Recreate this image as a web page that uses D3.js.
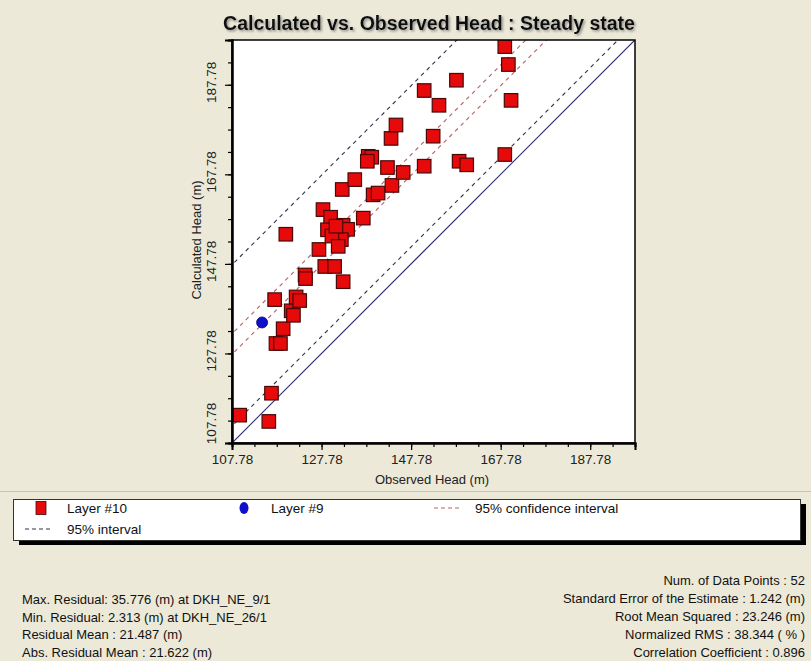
<!DOCTYPE html>
<html>
<head>
<meta charset="utf-8">
<script src="https://cdn.jsdelivr.net/npm/d3@7"></script>
<style>
  html, body { margin: 0; padding: 0; background: #ece9d8; }
  svg { display: block; font-family: "Liberation Sans", Arial, sans-serif; }
</style>
</head>
<body>
<script>
// Layer #10 points (observed, calculated)
var observedL10 = [109.5, 116.0, 116.6, 117.6, 118.6, 117.3, 119.2, 121.0, 121.5, 122.1,
                   122.9, 124.1, 124.2, 119.8, 127.2, 128.5, 130.7, 132.6, 128.1, 129.8,
                   129.1, 132.6, 133.6, 132.2, 130.1, 131.5, 137.1, 132.4, 135.2, 139.3,
                   140.4, 143.5, 146.0, 142.5, 138.2, 139.0, 150.7, 143.3, 144.4, 152.7,
                   150.7, 154.0, 157.9, 158.5, 160.2, 168.7, 168.7, 169.5, 170.1, 138.0,
                   131.0];
var calculatedL10 = [114.0, 112.6, 118.9, 130.0, 130.0, 139.8, 133.3, 137.3, 136.3, 140.4,
                     139.6, 145.3, 144.5, 154.4, 151.0, 147.2, 147.2, 143.8, 159.9, 158.2,
                     155.4, 156.4, 155.5, 153.2, 154.0, 151.7, 158.0, 164.4, 166.6, 163.2,
                     163.6, 165.3, 168.2, 169.3, 171.8, 171.6, 169.6, 175.8, 178.8, 176.3,
                     186.5, 183.2, 188.8, 170.7, 169.9, 172.2, 196.3, 192.3, 184.3, 170.7,
                     156.2];
// Layer #9 point
var observedL9 = [114.5];
var calculatedL9 = [134.7];

// line offsets from the 1:1 line (calculated = observed + offset)
var intervalOffsets = [3.8, 39.8];
var confidenceOffsets = [19.8, 24.4];

var axisMin = 107.78, axisMax = 197.78;
var majorTicks = [107.78, 127.78, 147.78, 167.78, 187.78];
var minorTicks = d3.range(0, 19).map(function(i) { return +(107.78 + i * 5).toFixed(2); });

var statsLeft = ["Max. Residual: 35.776 (m) at DKH_NE_9/1",
                 "Min. Residual: 2.313 (m) at DKH_NE_26/1",
                 "Residual Mean : 21.487 (m)",
                 "Abs. Residual Mean : 21.622 (m)"];
var statsRight = ["Num. of Data Points : 52",
                  "Standard Error of the Estimate : 1.242 (m)",
                  "Root Mean Squared : 23.246 (m)",
                  "Normalized RMS : 38.344 ( % )",
                  "Correlation Coefficient : 0.896"];

var W = 811, H = 661;
var plot = {left: 232, top: 40, right: 635, bottom: 443};

var svg = d3.select("body").append("svg")
    .attr("width", W)
    .attr("height", H);

svg.append("rect").attr("width", W).attr("height", H).attr("fill", "#ece9d8");

var defs = svg.append("defs");
defs.append("clipPath").attr("id", "plotclip")
    .append("rect")
    .attr("x", plot.left).attr("y", plot.top)
    .attr("width", plot.right - plot.left).attr("height", plot.bottom - plot.top);
var shadow = defs.append("filter").attr("id", "tshadow")
    .attr("x", "-5%").attr("y", "-30%").attr("width", "110%").attr("height", "160%");
shadow.append("feDropShadow")
    .attr("dx", 1.5).attr("dy", 1.5).attr("stdDeviation", 1)
    .attr("flood-color", "#777").attr("flood-opacity", 0.8);

var x = d3.scaleLinear().domain([axisMin, axisMax]).range([plot.left, plot.right]);
var y = d3.scaleLinear().domain([axisMin, axisMax]).range([plot.bottom, plot.top]);

// title
svg.append("text")
    .attr("x", 429).attr("y", 30)
    .attr("text-anchor", "middle")
    .attr("font-size", "19.5px")
    .attr("font-weight", "bold")
    .attr("fill", "#111")
    .attr("filter", "url(#tshadow)")
    .text("Calculated vs. Observed Head : Steady state");

// plot background
svg.append("rect")
    .attr("x", plot.left).attr("y", plot.top)
    .attr("width", plot.right - plot.left).attr("height", plot.bottom - plot.top)
    .attr("fill", "#fff");

var lines = svg.append("g").attr("clip-path", "url(#plotclip)");

function offsetLine(off) {
    return [[axisMin - 50, axisMin - 50 + off], [axisMax + 50, axisMax + 50 + off]];
}
var lineGen = d3.line()
    .x(function(d) { return x(d[0]); })
    .y(function(d) { return y(d[1]); });

lines.selectAll("path.conf")
    .data(confidenceOffsets)
    .enter()
    .append("path")
    .attr("class", "conf")
    .attr("d", function(d) { return lineGen(offsetLine(d)); })
    .attr("fill", "none")
    .attr("stroke", "#b86060")
    .attr("stroke-width", 1.1)
    .attr("stroke-dasharray", "4,4");

lines.selectAll("path.interval")
    .data(intervalOffsets)
    .enter()
    .append("path")
    .attr("class", "interval")
    .attr("d", function(d) { return lineGen(offsetLine(d)); })
    .attr("fill", "none")
    .attr("stroke", "#333348")
    .attr("stroke-width", 1.1)
    .attr("stroke-dasharray", "4,4");

lines.append("path")
    .attr("d", lineGen(offsetLine(0)))
    .attr("fill", "none")
    .attr("stroke", "#2a2a78")
    .attr("stroke-width", 1.2);

// points
var pts10 = observedL10.map(function(o, i) { return {o: o, c: calculatedL10[i]}; });
var pts9 = observedL9.map(function(o, i) { return {o: o, c: calculatedL9[i]}; });
var sq = 13.5;

var marks = svg.append("g").attr("clip-path", "url(#plotclip)");
marks.selectAll("rect.l10")
    .data(pts10)
    .enter()
    .append("rect")
    .attr("class", "l10")
    .attr("x", function(d) { return x(d.o) - sq / 2; })
    .attr("y", function(d) { return y(d.c) - sq / 2; })
    .attr("width", sq).attr("height", sq)
    .attr("fill", "#e60a0a")
    .attr("stroke", "#4a0808")
    .attr("stroke-width", 1.2);

marks.selectAll("circle.l9")
    .data(pts9)
    .enter()
    .append("circle")
    .attr("class", "l9")
    .attr("cx", function(d) { return x(d.o); })
    .attr("cy", function(d) { return y(d.c); })
    .attr("r", 5.5)
    .attr("fill", "#1010cc")
    .attr("stroke", "#000066")
    .attr("stroke-width", 0.8);

// frame
svg.append("rect")
    .attr("x", plot.left).attr("y", plot.top)
    .attr("width", plot.right - plot.left).attr("height", plot.bottom - plot.top)
    .attr("fill", "none")
    .attr("stroke", "#000")
    .attr("stroke-width", 1.5);

// axes
var xAxisMinor = d3.axisBottom(x).tickValues(minorTicks).tickSize(4).tickFormat("");
var xAxisMajor = d3.axisBottom(x).tickValues(majorTicks).tickSize(7).tickPadding(4)
    .tickFormat(d3.format(".2f"));
var yAxisMinor = d3.axisLeft(y).tickValues(minorTicks).tickSize(4).tickFormat("");
var yAxisMajor = d3.axisLeft(y).tickValues(majorTicks).tickSize(7).tickFormat(d3.format(".2f"));

function styleAxis(g) {
    g.select(".domain").attr("stroke", "#000").attr("stroke-width", 2);
    g.selectAll(".tick line").attr("stroke", "#000").attr("stroke-width", 1.2);
    g.selectAll(".tick text").attr("fill", "#222").attr("font-size", "13.5px")
        .attr("font-family", "'Liberation Sans', Arial, sans-serif");
}

svg.append("g").attr("transform", "translate(0," + plot.bottom + ")").call(xAxisMinor).call(styleAxis);
svg.append("g").attr("transform", "translate(0," + plot.bottom + ")").call(xAxisMajor).call(styleAxis);
svg.append("g").attr("transform", "translate(" + plot.left + ",0)").call(yAxisMinor).call(styleAxis);
var yMaj = svg.append("g").attr("transform", "translate(" + plot.left + ",0)").call(yAxisMajor).call(styleAxis);
// rotated labels; the lowest one is pushed up so it stays inside the axis
yMaj.selectAll(".tick text")
    .attr("x", 0).attr("dy", 0)
    .attr("transform", function(d, i) { return "translate(-16," + (i == 0 ? -20 : -3) + ") rotate(-90)"; })
    .attr("text-anchor", "middle");

svg.append("text")
    .attr("x", 432).attr("y", 484)
    .attr("text-anchor", "middle")
    .attr("font-size", "13px")
    .attr("fill", "#222")
    .text("Observed Head (m)");

svg.append("text")
    .attr("transform", "translate(201,240) rotate(-90)")
    .attr("text-anchor", "middle")
    .attr("font-size", "13px")
    .attr("fill", "#222")
    .text("Calculated Head (m)");

// separator
svg.append("line")
    .attr("x1", 0).attr("x2", W).attr("y1", 491.5).attr("y2", 491.5)
    .attr("stroke", "#c9c5b2").attr("stroke-width", 1);

// legend
var lg = svg.append("g");
lg.append("rect").attr("x", 19).attr("y", 504).attr("width", 787).attr("height", 41).attr("fill", "#000");
lg.append("rect").attr("x", 13.5).attr("y", 499.5).attr("width", 787).attr("height", 41)
    .attr("fill", "#fff").attr("stroke", "#333").attr("stroke-width", 1);

var legendItems = [
    {label: "Layer #10", kind: "square", sx: 41, tx: 67, row: 0},
    {label: "Layer #9", kind: "circle", sx: 244, tx: 271, row: 0},
    {label: "95% confidence interval", kind: "conf", sx: 446, tx: 475, row: 0},
    {label: "95% interval", kind: "interval", sx: 37, tx: 67, row: 1}
];
var rowY = [508, 529];
legendItems.forEach(function(it) {
    var cy = rowY[it.row];
    if (it.kind == "square") {
        lg.append("rect").attr("x", it.sx - 5).attr("y", cy - 6.5).attr("width", 10).attr("height", 13)
            .attr("fill", "#e60a0a").attr("stroke", "#4a0808").attr("stroke-width", 0.8);
    } else if (it.kind == "circle") {
        lg.append("ellipse").attr("cx", it.sx).attr("cy", cy).attr("rx", 4.5).attr("ry", 6)
            .attr("fill", "#1010cc");
    } else {
        lg.append("line")
            .attr("x1", it.sx - 12).attr("x2", it.sx + 13).attr("y1", cy).attr("y2", cy)
            .attr("stroke", it.kind == "conf" ? "#b86060" : "#333348")
            .attr("stroke-width", 1)
            .attr("stroke-dasharray", "4,3");
    }
    lg.append("text")
        .attr("x", it.tx).attr("y", cy + 5)
        .attr("font-size", "13.5px")
        .attr("fill", "#111")
        .text(it.label);
});

// statistics
svg.append("g").selectAll("text")
    .data(statsLeft)
    .enter()
    .append("text")
    .attr("x", 22)
    .attr("y", function(d, i) { return 604 + i * 17.7; })
    .attr("font-size", "13px")
    .attr("fill", "#111")
    .text(function(d) { return d; });

svg.append("g").selectAll("text")
    .data(statsRight)
    .enter()
    .append("text")
    .attr("x", 805)
    .attr("y", function(d, i) { return 585 + i * 18; })
    .attr("text-anchor", "end")
    .attr("font-size", "13px")
    .attr("fill", "#111")
    .text(function(d) { return d; });
</script>
</body>
</html>
